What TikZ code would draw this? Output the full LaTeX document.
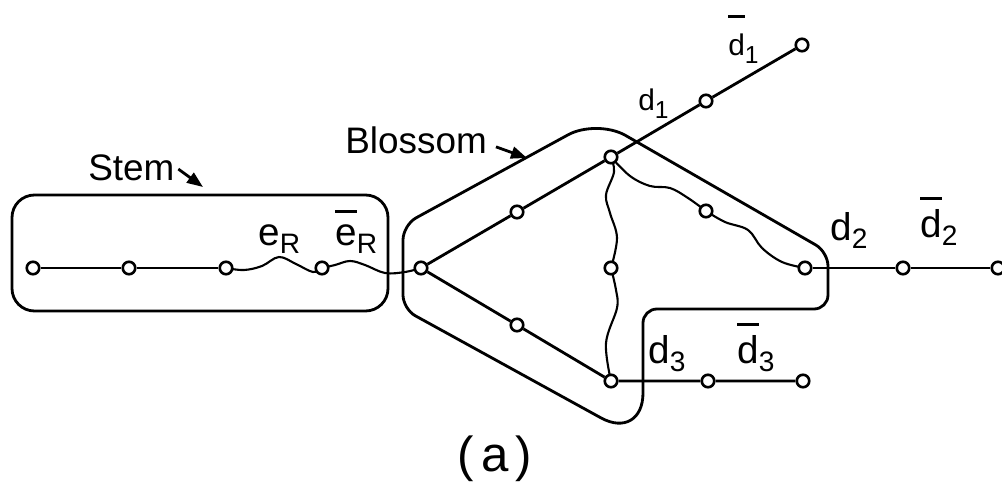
\documentclass[tikz,border=0pt]{standalone}
\usepackage{fontspec}
\setmainfont{Liberation Sans}
\usetikzlibrary{arrows.meta,backgrounds}
\newlength\barw
\newcommand{\ovl}[2][21pt]{\settowidth{\barw}{#2}\makebox[0pt][l]{\rule[#1]{\barw}{2pt}}#2}
\newcommand{\lsub}[2][16]{\raisebox{-5pt}{\fontsize{#1}{#1}\selectfont #2}}
\tikzset{
  vtx/.style={circle, draw, fill=white, line width=1.5pt, inner sep=0pt, minimum size=0.25cm},
  link/.style={line width=1.6pt},
  wavy/.style={line width=1.2pt},
  hull/.style={line width=1.6pt},
  lbl/.style={inner sep=0pt, anchor=base west, font=\fontsize{22}{24}\selectfont},
  lblsmall/.style={lbl, font=\fontsize{17}{19}\selectfont},
  title/.style={lbl, font=\fontsize{21}{24}\selectfont},
  ptr/.style={-{Triangle[length=0.32cm,width=0.24cm]}, line width=1.6pt}
}

\begin{document}
\begin{tikzpicture}[x=0.02cm, y=-0.02cm]
\useasboundingbox (0,0) rectangle (1002,487);

% ── Stem vertices ─────────────────────────────────────────────────
\foreach \x [count=\i] in {33,129,226,322}
  \node[vtx] (s\i) at (\x,268) {};

% ── Blossom vertices ──────────────────────────────────────────────
\node[vtx] (root) at (421,268) {};
\node[vtx] (up)   at (517,212) {};
\node[vtx] (top)  at (611,157) {};
\node[vtx] (low)  at (517,325) {};
\node[vtx] (bot)  at (611,381) {};
\node[vtx] (mid)  at (611,268) {};
\node[vtx] (side) at (706,211) {};
\node[vtx] (tip)  at (805,268) {};

% ── Outer vertices ────────────────────────────────────────────────
\node[vtx] (p1) at (706,101) {};
\node[vtx] (q1) at (802,45)  {};
\node[vtx] (p2) at (903,268) {};
\node[vtx] (q2) at (998,268) {};
\node[vtx] (p3) at (708,381) {};
\node[vtx] (q3) at (803,381) {};

% ── Edges (behind the vertices) ───────────────────────────────────
\begin{scope}[on background layer]
  \draw[link] (s1) -- (s2) -- (s3);
  \draw[link] (root) -- (up) -- (top) -- (p1) -- (q1);
  \draw[link] (root) -- (low) -- (bot) -- (p3) -- (q3);
  \draw[link] (tip) -- (p2) -- (q2);
  % wavy edges
  \draw[wavy] plot[smooth, tension=0.6] coordinates
    {(s3) (244,270) (262,266) (279,257) (296,264) (313,272) (s4)};
  \draw[wavy] plot[smooth, tension=0.6] coordinates
    {(s4) (335,265) (350,261) (365,265) (385,273) (405,272) (root)};
  \draw[wavy] plot[smooth, tension=0.6] coordinates
    {(top) (614,172) (606,195) (610,213) (617,238) (mid)};
  \draw[wavy] plot[smooth, tension=0.6] coordinates
    {(mid) (616,290) (617,308) (606,343) (bot)};
  \draw[wavy] plot[smooth, tension=0.6] coordinates
    {(top) (630,176) (650,186) (670,188) (688,198) (side)};
  \draw[wavy] plot[smooth, tension=0.6] coordinates
    {(side) (725,222) (748,230) (762,248) (782,262) (tip)};
\end{scope}

% ── Stem and blossom outlines ─────────────────────────────────────
\draw[hull, rounded corners=0.45cm] (12,195) rectangle (388,311);
\draw[hull] (403,260)
  [rounded corners=0.3cm]  -- (403,225)
  [rounded corners=0.66cm] -- (597,119)
  [rounded corners=0.28cm] -- (828,252)
  -- (828,309) -- (643,309)
  [rounded corners=0.96cm] -- (643,441)
  [rounded corners=0.28cm] -- (403,309) -- cycle;

% ── Edge labels ───────────────────────────────────────────────────
\node[lbl] (eR)  at (258,245) {e\lsub{R}};
\node[lbl] (eRb) at (335,245) {\ovl[18pt]{e}\lsub{R}};
\node[lblsmall] (d1)  at (638,110) {d\lsub[14]{1}};
\node[lblsmall] (d1b) at (728,55)  {\ovl{d}\lsub[14]{1}};
\node[lbl] (d2)  at (830,240) {d\lsub{2}};
\node[lbl] (d2b) at (920,237) {\ovl{d}\lsub{2}};
\node[lbl] (d3)  at (648,363) {d\lsub{3}};
\node[lbl] (d3b) at (737,363) {\ovl{d}\lsub{3}};

% ── Stem / Blossom captions with pointers ─────────────────────────
\node[title] (stemlbl) at (88,180) {Stem};
\coordinate (stemtip) at (203,187);
\draw[ptr] ([xshift=2pt,yshift=-1pt]stemlbl.east) -- (stemtip);

\node[title] (blosslbl) at (345,153) {Blossom};
\coordinate (blosstip) at (527,158);
\draw[ptr] ([xshift=5pt,yshift=-4pt]blosslbl.east) -- (blosstip);

% ── Figure caption ────────────────────────────────────────────────
\node[font=\fontsize{28}{30}\selectfont] (cap) at (495,459) {(\kern4pt a\kern4pt)};

\end{tikzpicture}
\end{document}
